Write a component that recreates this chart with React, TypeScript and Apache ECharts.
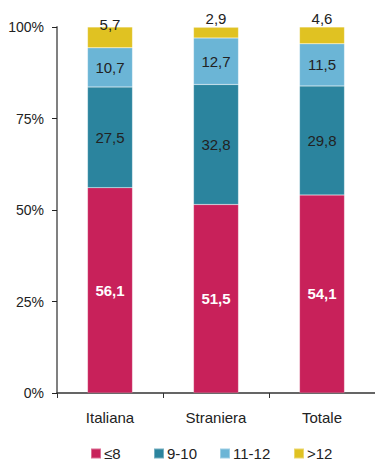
import React, { useEffect, useRef } from "react";
import * as echarts from "echarts";

const categories = ["Italiana", "Straniera", "Totale"];
const seriesNames = ["≤8", "9-10", "11-12", ">12"];
const le8 = [56.1, 51.5, 54.1];
const s9to10 = [27.5, 32.8, 29.8];
const s11to12 = [10.7, 12.7, 11.5];
const gt12 = [5.7, 2.9, 4.6];
const yTicks = [0, 25, 50, 75, 100];

const colors = ["#C8215A", "#2B849E", "#6BB5D6", "#E0C222"];
const legendLeft = [90, 153, 219, 293];

const fmt = (v: number) => v.toFixed(1).replace(".", ",");

export default function App() {
  const ref = useRef<HTMLDivElement>(null);
  useEffect(() => {
    if (!ref.current) return;
    const chart = echarts.init(ref.current, null, { renderer: "svg" });
    const font = "Liberation Sans, Arial, sans-serif";
    const data = [le8, s9to10, s11to12, gt12];
    chart.setOption({
      animation: false,
      textStyle: { fontFamily: font },
      grid: { left: 57, right: 0, top: 27, bottom: 69 },
      legend: seriesNames.map((n, i) => ({
        top: 446,
        left: legendLeft[i],
        padding: 0,
        itemWidth: 10,
        itemHeight: 10,
        itemGap: 0,
        icon: "rect",
        textStyle: { fontSize: 15, color: "#222", fontFamily: font, padding: [0, 0, 0, -2] },
        data: [n],
      })),
      xAxis: {
        type: "category",
        data: categories,
        axisLine: { lineStyle: { color: "#333", width: 1.5 } },
        axisTick: { show: true, length: 5, lineStyle: { color: "#333" } },
        axisLabel: { fontSize: 15, color: "#222", margin: 17, fontFamily: font },
      },
      yAxis: {
        type: "value",
        min: yTicks[0],
        max: yTicks[yTicks.length - 1],
        interval: 25,
        splitLine: { show: false },
        axisLine: { show: true, lineStyle: { color: "#808080", width: 2 } },
        axisTick: { show: true, length: 5, lineStyle: { color: "#222" } },
        axisLabel: { fontSize: 14, color: "#222", margin: 13, formatter: "{value}%", fontFamily: font },
      },
      series: seriesNames.map((name, i) => ({
        name,
        type: "bar",
        stack: "total",
        barWidth: 45,
        itemStyle: { color: colors[i], borderColor: "rgba(255,255,255,0.35)", borderWidth: 0.5 },
        label: {
          show: true,
          position: i === 3 ? "top" : "inside",
          distance: 1,
          fontSize: 15,
          fontFamily: font,
          color: i === 0 ? "#fff" : "#222",
          fontWeight: i === 0 ? "bold" : "normal",
          formatter: (p: any) => fmt(p.value),
        },
        data: data[i].map((v, j) =>
          i === 3 && j === 0
            ? { value: v, label: { offset: [0, 6] } }
            : v
        ),
      })),
    });
    return () => chart.dispose();
  }, []);
  return <div ref={ref} style={{ width: 375, height: 462, position: "absolute", left: 0, top: 0 }} />;
}
